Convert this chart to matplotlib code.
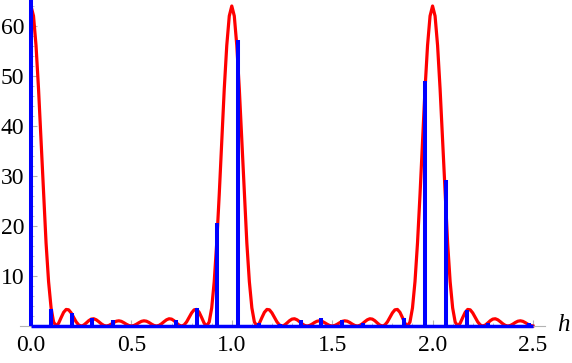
import matplotlib
matplotlib.use('Agg')
import matplotlib.pyplot as plt
import numpy as np
from matplotlib.ticker import MultipleLocator

# ---- data ----
h_step = 1 / 80
red_values = [
    64, 62.0, 56.1, 47.4, 37.0, 26.3, 16.6, 8.88, 3.62, 0.80, 0, 0.55, 1.68, 2.74, 3.31, 3.24, 2.62, 1.71, 0.82, 0.21,
    0, 0.18, 0.60, 1.06, 1.38, 1.45, 1.24, 0.86, 0.44, 0.12, 0, 0.11, 0.38, 0.71, 0.96, 1.04, 0.93, 0.66, 0.35, 0.10, 0,
    0.10, 0.35, 0.66, 0.93, 1.04, 0.96, 0.71, 0.38, 0.11, 0, 0.12, 0.44, 0.86, 1.24, 1.45, 1.38, 1.06, 0.60, 0.18, 0,
    0.21, 0.82, 1.71, 2.62, 3.24, 3.31, 2.74, 1.68, 0.55, 0, 0.80, 3.62, 8.88, 16.6, 26.3, 37.0, 47.4, 56.1, 62.0, 64,
    62.0, 56.1, 47.4, 37.0, 26.3, 16.6, 8.88, 3.62, 0.80, 0, 0.55, 1.68, 2.74, 3.31, 3.24, 2.62, 1.71, 0.82, 0.21, 0,
    0.18, 0.60, 1.06, 1.38, 1.45, 1.24, 0.86, 0.44, 0.12, 0, 0.11, 0.38, 0.71, 0.96, 1.04, 0.93, 0.66, 0.35, 0.10, 0,
    0.10, 0.35, 0.66, 0.93, 1.04, 0.96, 0.71, 0.38, 0.11, 0, 0.12, 0.44, 0.86, 1.24, 1.45, 1.38, 1.06, 0.60, 0.18, 0,
    0.21, 0.82, 1.71, 2.62, 3.24, 3.31, 2.74, 1.68, 0.55, 0, 0.80, 3.62, 8.88, 16.6, 26.3, 37.0, 47.4, 56.1, 62.0, 64,
    62.0, 56.1, 47.4, 37.0, 26.3, 16.6, 8.88, 3.62, 0.80, 0, 0.55, 1.68, 2.74, 3.31, 3.24, 2.62, 1.71, 0.82, 0.21, 0,
    0.18, 0.60, 1.06, 1.38, 1.45, 1.24, 0.86, 0.44, 0.12, 0, 0.11, 0.38, 0.71, 0.96, 1.04, 0.93, 0.66, 0.35, 0.10, 0,
]
blue_positions = [0.0, 0.098, 0.203, 0.305, 0.41, 0.72, 0.825, 0.928, 1.031, 1.135, 1.24,
                  1.343, 1.446, 1.55, 1.652, 1.859, 1.962, 2.067, 2.17, 2.274, 2.48]
blue_heights = [66, 3.5, 2.7, 1.7, 1.2, 1.2, 3.7, 20.7, 57.2, 0.6, 0.4,
                1.2, 1.7, 1.3, 0.7, 1.7, 49.0, 29.2, 3.3, 0.7, 0.7]
x_ticks = [0.0, 0.5, 1.0, 1.5, 2.0, 2.5]
x_tick_labels = ['0.0', '0.5', '1.0', '1.5', '2.0', '2.5']
y_ticks = [10, 20, 30, 40, 50, 60]
y_tick_labels = ['10', '20', '30', '40', '50', '60']
x_label = 'h'

# ---- plot ----
font = 'Liberation Serif'
plt.rcParams['font.family'] = [font, 'DejaVu Serif']

fig = plt.figure(figsize=(5.72, 3.63), dpi=100)
ax = fig.add_axes([20 / 572, 32 / 363, 525 / 572, 331 / 363])
ax.set_xlim(-0.0548, 2.56)
ax.set_ylim(-1.0, 65.2)

h = np.arange(len(red_values)) * h_step
ax.plot(h, red_values, color='#ff0000', lw=2.3, solid_joinstyle='round', zorder=2)
ax.hlines(0, 0, 2.5, color='#0000ff', lw=2.5, zorder=3)
ax.vlines(blue_positions, 0, blue_heights, color='#0000ff', lw=2.9, zorder=3)

for s in ['top', 'right']:
    ax.spines[s].set_visible(False)
ax.spines['left'].set_position(('data', 0))
ax.spines['bottom'].set_position(('data', 0))
ax.spines['left'].set_bounds(0, 65.2)
for s in ['left', 'bottom']:
    ax.spines[s].set_color('#b3b3b3')
    ax.spines[s].set_linewidth(0.8)

ax.set_xticks(x_ticks)
ax.set_xticklabels(x_tick_labels)
ax.set_yticks(y_ticks)
ax.set_yticklabels(y_tick_labels)
ax.xaxis.set_minor_locator(MultipleLocator(0.1))
ax.yaxis.set_minor_locator(MultipleLocator(2))
ax.tick_params(which='both', direction='in', color='#b3b3b3', labelcolor='black', labelsize=17)
ax.tick_params(which='major', length=4, width=0.8)
ax.tick_params(which='minor', length=2.5, width=0.6)
ax.tick_params(axis='x', which='major', pad=6.5)
ax.tick_params(axis='y', which='major', pad=5)

fig.text(563 / 572, 1 - 325 / 363, x_label, style='italic', ha='center', va='center', fontsize=18)

fig.savefig('out.png', dpi=100)
